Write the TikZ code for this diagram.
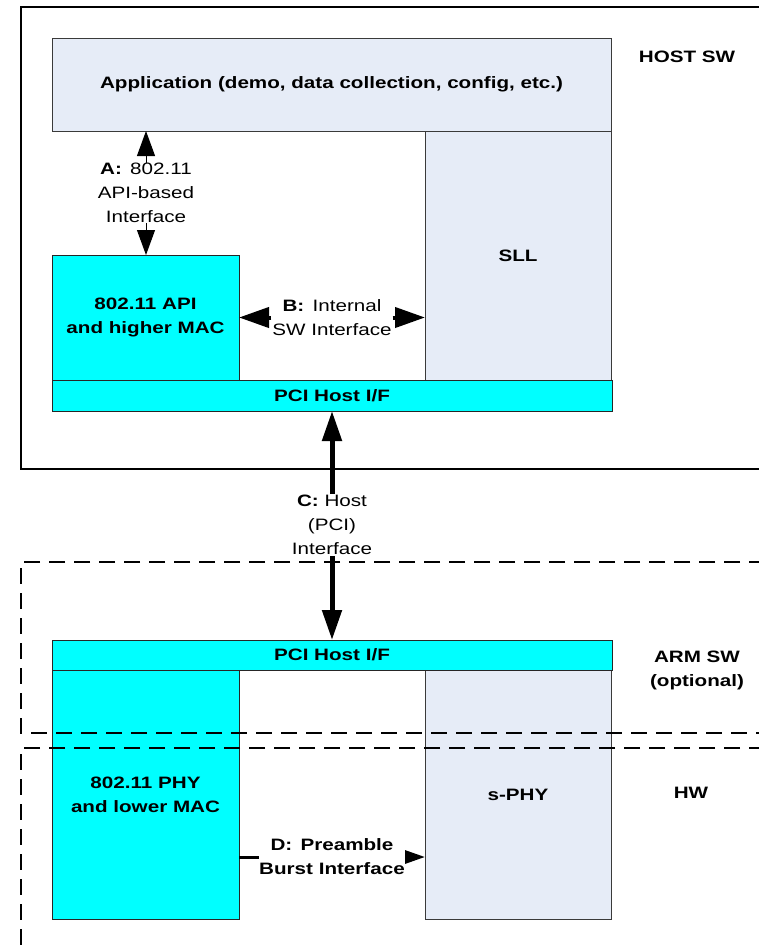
\documentclass[tikz,border=0pt]{standalone}
\usepackage{fontspec}
\setmainfont{Liberation Sans}[FakeStretch=1.25]
\usetikzlibrary{arrows.meta}

\definecolor{paleblue}{HTML}{E6ECF7}
\definecolor{boxcyan}{HTML}{00FFFF}
\definecolor{edgegray}{HTML}{3A3A3A}

\tikzset{
  txt/.style={font=\fontsize{16.5}{24}\selectfont, align=center, inner sep=1pt, outer sep=0pt},
  bold/.style={txt, font=\fontsize{16.5}{24}\selectfont\bfseries},
  blockbase/.style={draw=edgegray, line width=1pt, inner sep=0pt, outer sep=0pt,
    font=\fontsize{16.5}{24}\selectfont\bfseries, align=center},
  paleblock/.style={blockbase, fill=paleblue},
  cyanblock/.style={blockbase, fill=boxcyan, draw=black!85},
  region/.style={line width=2pt},
  dashedregion/.style={line width=2pt, dash pattern=on 16pt off 9pt},
  thinlink/.style={line width=1pt, -{Triangle[length=25pt,width=18pt]}},
  midlink/.style={line width=4pt, -{Triangle[length=30pt,width=20pt]}},
  fatlink/.style={line width=5pt, -{Triangle[length=30pt,width=19pt]}},
  burstlink/.style={line width=3pt, -{Triangle[length=20pt,width=13pt]}},
  stub/.style={line width=3pt}
}

\begin{document}
\begin{tikzpicture}[x=1pt,y=-1pt]
\useasboundingbox (0,0) rectangle (759,946);
\clip (0,0) rectangle (759,946);
\fill[white] (0,0) rectangle (759,946);

% host software layer
\node[paleblock, minimum width=559pt, minimum height=93pt] (app) at (331.5,84.5)
  {Application (demo, data collection, config, etc.)};
\node[paleblock, minimum width=186pt, minimum height=249pt] (sll) at (518,255.5) {SLL};
\node[cyanblock, minimum width=187pt, minimum height=125pt] (api) at (145.5,317.5)
  {802.11 API\\and higher MAC};
\node[cyanblock, minimum width=560pt, minimum height=31pt] (pcitop) at (332,395.5) {PCI Host I/F};

% ARM software and hardware layers
\node[paleblock, minimum width=186pt, minimum height=249pt] (sphy) at (518,794.5) {s-PHY};
\node[cyanblock, minimum width=187pt, minimum height=249pt] (phy) at (145.5,794.5)
  {802.11 PHY\\and lower MAC};
\node[cyanblock, minimum width=560pt, minimum height=30pt] (pcibot) at (332,655) {PCI Host I/F};

% layer outlines
\draw[region] (21,7) rectangle (790,469);
\draw[dashedregion] (790,562) -- (21,562) -- (21,733) -- (790,733);
\draw[dashedregion] (790,748) -- (21,748) -- (21,960);

% layer names
\node[bold] (hostsw) at (687,57) {HOST SW};
\node[bold] (armsw) at (697,670) {ARM SW\\(optional)};
\node[bold] (hw) at (691,793) {HW};

% interface A
\node[txt, inner sep=0pt] (labA) at (146,193) {\textbf{A:}\enspace 802.11\\API-based\\Interface};
\draw[thinlink] (labA.north) -- (labA.north |- app.south);
\draw[thinlink] (labA.south) -- (labA.south |- api.north);

% interface B
\node[txt] (labB) at (332,317.5) {\textbf{B:}\enspace Internal\\SW Interface};
\draw[midlink] (labB.west) -- (labB.west -| api.east);
\draw[midlink] (labB.east) -- (labB.east -| sll.west);

% interface C
\node[txt, fill=white] (labC) at (332,525) {\textbf{C:} Host\\(PCI)\\Interface};
\draw[fatlink] (labC.north) -- (labC.north |- pcitop.south);
\draw[fatlink] (labC.south) -- (labC.south |- pcibot.north);

% interface D
\node[bold, inner sep=0.5pt] (labD) at (332,857) {D:\enspace Preamble\\Burst Interface};
\draw[stub] (labD.west) -- (labD.west -| phy.east);
\draw[burstlink] (labD.east) -- (labD.east -| sphy.west);
\end{tikzpicture}
\end{document}
